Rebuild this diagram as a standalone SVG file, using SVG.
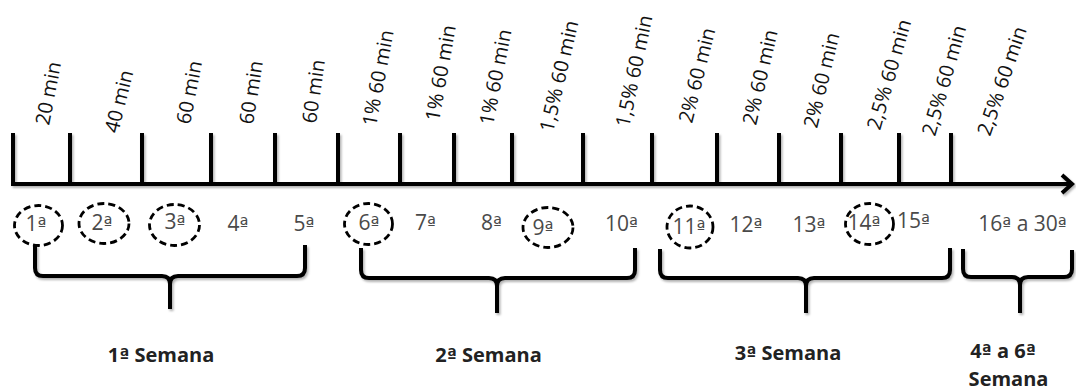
<svg xmlns="http://www.w3.org/2000/svg" width="1076" height="392" viewBox="0 0 1076 392">
  <style>
    .axis { stroke: #000; stroke-width: 4; fill: none; stroke-linecap: butt; }
    .brace { stroke: #000; stroke-width: 4; fill: none; stroke-linejoin: round; }
    .dur { font-family: "Open Sans", "Liberation Sans", sans-serif; font-size: 20px; fill: #111; }
    .num { font-family: "Open Sans", "Liberation Sans", sans-serif; font-size: 21px; fill: #4a4a4a; text-anchor: middle; }
    .ord { font-family: "DejaVu Sans", sans-serif; font-size: 0.9em; }
    .ring { fill: none; stroke: #000; stroke-width: 2.8; stroke-dasharray: 7 4; }
    .week { font-family: "Open Sans", "Liberation Sans", sans-serif; font-size: 20px; font-weight: 700; fill: #222; text-anchor: middle; }
  </style>
  <defs>
    <filter id="shadow" x="-5%" y="-20%" width="110%" height="140%">
      <feDropShadow dx="1.5" dy="2" stdDeviation="1" flood-color="#000" flood-opacity="0.3"/>
    </filter>
  </defs>

  <rect width="1076" height="392" fill="#fff"/>

  <!-- time axis with session ticks -->
  <g id="axis" filter="url(#shadow)">
    <path class="axis" d="M11,184 H1072"/>
    <path class="axis" d="M1062,175 L1072,184 L1062,193" stroke-linejoin="miter"/>
    <path class="axis" d="M13,133 V186 M70,133 V184 M142,133 V184 M211,133 V184 M275,133 V184 M338,133 V184 M400,133 V184 M454,133 V184 M512,133 V184 M583,133 V184 M652,133 V184 M717,133 V184 M779,133 V184 M841,133 V184 M899,133 V184 M951,133 V184"/>
  </g>

  <!-- session durations / inclination -->
  <g id="durations">
    <text class="dur" transform="translate(49,126) rotate(-79)">20 min</text>
    <text class="dur" transform="translate(118,134) rotate(-76)">40 min</text>
    <text class="dur" transform="translate(190,125) rotate(-79)">60 min</text>
    <text class="dur" transform="translate(253,125) rotate(-81)">60 min</text>
    <text class="dur" transform="translate(316,124) rotate(-82)">60 min</text>
    <text class="dur" transform="translate(376,127) rotate(-79.5)">1% 60 min</text>
    <text class="dur" transform="translate(439,122) rotate(-80)">1% 60 min</text>
    <text class="dur" transform="translate(493,126) rotate(-79)">1% 60 min</text>
    <text class="dur" transform="translate(553,133) rotate(-77)">1,5% 60 min</text>
    <text class="dur" transform="translate(629,128) rotate(-78)">1,5% 60 min</text>
    <text class="dur" transform="translate(692,124) rotate(-76)">2% 60 min</text>
    <text class="dur" transform="translate(756,126) rotate(-77)">2% 60 min</text>
    <text class="dur" transform="translate(817,129) rotate(-76.5)">2% 60 min</text>
    <text class="dur" transform="translate(880,131) rotate(-74)">2,5% 60 min</text>
    <text class="dur" transform="translate(935,137) rotate(-74)">2,5% 60 min</text>
    <text class="dur" transform="translate(990,137) rotate(-71)">2,5% 60 min</text>
  </g>

  <!-- sessions -->
  <g id="s1"><ellipse class="ring" cx="38.5" cy="225.5" rx="24" ry="20"/><text class="num" x="36" y="231">1<tspan class="ord">ª</tspan></text></g>
  <g id="s2"><ellipse class="ring" cx="104" cy="223.5" rx="25" ry="20"/><text class="num" x="102" y="230">2<tspan class="ord">ª</tspan></text></g>
  <g id="s3"><ellipse class="ring" cx="174.5" cy="225" rx="25" ry="20.5"/><text class="num" x="175" y="229">3<tspan class="ord">ª</tspan></text></g>
  <g id="s4"><text class="num" x="238" y="231">4<tspan class="ord">ª</tspan></text></g>
  <g id="s5"><text class="num" x="304" y="231">5<tspan class="ord">ª</tspan></text></g>
  <g id="s6"><ellipse class="ring" cx="368.5" cy="224" rx="24" ry="20.5"/><text class="num" x="369" y="230">6<tspan class="ord">ª</tspan></text></g>
  <g id="s7"><text class="num" x="425.5" y="230">7<tspan class="ord">ª</tspan></text></g>
  <g id="s8"><text class="num" x="491.5" y="230">8<tspan class="ord">ª</tspan></text></g>
  <g id="s9"><ellipse class="ring" cx="548" cy="227.5" rx="25" ry="20"/><text class="num" x="543" y="235">9<tspan class="ord">ª</tspan></text></g>
  <g id="s10"><text class="num" x="621.5" y="231">10<tspan class="ord">ª</tspan></text></g>
  <g id="s11"><ellipse class="ring" cx="690" cy="227" rx="23" ry="21"/><text class="num" x="689" y="234">11<tspan class="ord">ª</tspan></text></g>
  <g id="s12"><text class="num" x="746" y="232">12<tspan class="ord">ª</tspan></text></g>
  <g id="s13"><text class="num" x="809" y="232">13<tspan class="ord">ª</tspan></text></g>
  <g id="s14"><ellipse class="ring" cx="869.5" cy="224" rx="24" ry="20.5"/><text class="num" x="864" y="230">14<tspan class="ord">ª</tspan></text></g>
  <g id="s15"><text class="num" x="913.5" y="228">15<tspan class="ord">ª</tspan></text></g>
  <g id="s16-30"><text class="num" x="1022.5" y="231">16<tspan class="ord">ª</tspan> a 30<tspan class="ord">ª</tspan></text></g>

  <!-- week braces -->
  <g id="braces" filter="url(#shadow)">
    <path class="brace" d="M35,245 V268 Q35,276 43,276 H162 Q170,276 170,284 V309 M170,284 Q170,276 178,276 H297 Q305,276 305,268 V245"/>
    <path class="brace" d="M361,248 V270 Q361,278 369,278 H489 Q497,278 497,286 V313 M497,286 Q497,278 505,278 H627 Q635,278 635,270 V248"/>
    <path class="brace" d="M660,249 V270 Q660,278 668,278 H798 Q806,278 806,286 V313 M806,286 Q806,278 814,278 H942 Q950,278 950,270 V248"/>
    <path class="brace" d="M963,249 V269 Q963,277 971,277 H1012 Q1020,277 1020,285 V313 M1020,285 Q1020,277 1028,277 H1064 Q1072,277 1072,269 V250"/>
  </g>

  <!-- week labels -->
  <g id="w1"><text class="week" x="161" y="362">1<tspan class="ord">ª</tspan> Semana</text></g>
  <g id="w2"><text class="week" x="488.5" y="362">2<tspan class="ord">ª</tspan> Semana</text></g>
  <g id="w3"><text class="week" x="788" y="360">3<tspan class="ord">ª</tspan> Semana</text></g>
  <g id="w4-6"><text class="week" x="1003" y="358">4<tspan class="ord">ª</tspan> a 6<tspan class="ord">ª</tspan></text><text class="week" x="1008.5" y="386">Semana</text></g>
</svg>
